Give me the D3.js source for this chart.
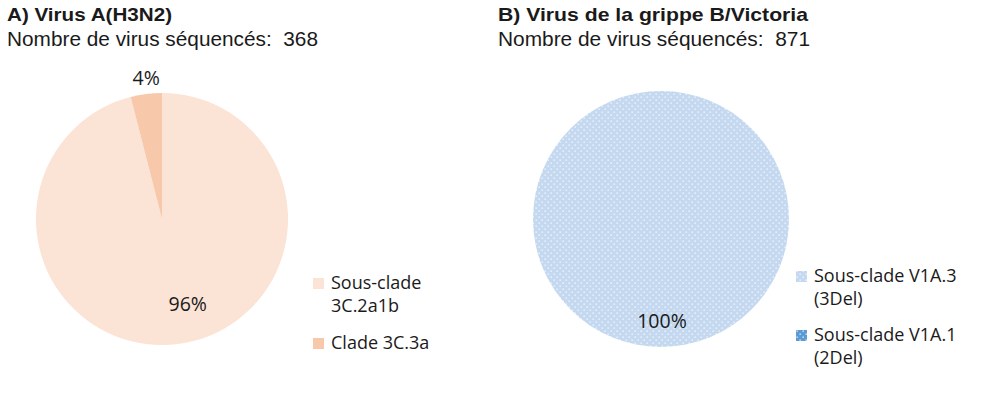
<!DOCTYPE html>
<html>
<head>
<meta charset="utf-8">
<script src="https://cdn.jsdelivr.net/npm/d3@7"></script>
<style>
  body { margin: 0; background: #fff; }
  text { fill: #1a1a1a; }
</style>
</head>
<body>
<svg width="1000" height="406"></svg>
<script>
// data
var cladesA = ["Sous-clade 3C.2a1b", "Clade 3C.3a"];
var valuesA = [96, 4];
var cladesB = ["Sous-clade V1A.3 (3Del)", "Sous-clade V1A.1 (2Del)"];
var valuesB = [100, 0];
var titles = ["A) Virus A(H3N2)", "B) Virus de la grippe B/Victoria"];
var counts = [368, 871];
// legend lines (wrapped like in the original)
var legendA = [["Sous-clade", "3C.2a1b"], ["Clade 3C.3a"]];
var legendB = [["Sous-clade V1A.3", "(3Del)"], ["Sous-clade V1A.1", "(2Del)"]];

var svg = d3.select("svg");

var defs = svg.append("defs");
function dots(id, base) {
  var p = defs.append("pattern")
      .attr("id", id)
      .attr("patternUnits", "userSpaceOnUse")
      .attr("width", 6).attr("height", 6);
  p.append("rect").attr("width", 6).attr("height", 6).attr("fill", base);
  p.append("rect").attr("x", 0.5).attr("y", 0.5).attr("width", 1.3).attr("height", 1.3).attr("fill", "#fff").attr("opacity", 0.85);
  p.append("rect").attr("x", 3.5).attr("y", 3.5).attr("width", 1.3).attr("height", 1.3).attr("fill", "#fff").attr("opacity", 0.85);
}
dots("dotLight", "#c4d8f0");
dots("dotDark", "#5b9bd5");

var colorA = d3.scaleOrdinal().domain(cladesA).range(["#fbe3d5", "#f7c9aa"]);
var colorB = d3.scaleOrdinal().domain(cladesB).range(["url(#dotLight)", "url(#dotDark)"]);

var pie = d3.pie().sort(null);

function drawPanel(opt) {
  var g = svg.append("g");
  g.append("text")
      .attr("x", opt.tx).attr("y", 21)
      .attr("textLength", opt.titleW).attr("lengthAdjust", "spacingAndGlyphs")
      .style("font-family", "Arial, 'Liberation Sans', sans-serif")
      .style("font-size", "19px").style("font-weight", "bold")
      .text(opt.title);
  g.append("text")
      .attr("x", opt.tx).attr("y", 46)
      .attr("textLength", opt.subW).attr("lengthAdjust", "spacingAndGlyphs")
      .style("font-family", "Arial, 'Liberation Sans', sans-serif")
      .style("font-size", "19.5px")
      .style("white-space", "pre")
      .text("Nombre de virus séquencés:  " + opt.count);

  var arc = d3.arc().innerRadius(0).outerRadius(opt.r);
  var pg = g.append("g").attr("transform", "translate(" + opt.cx + "," + opt.cy + ")");
  var arcs = pie(opt.values).filter(function(d) { return d.value > 0; });
  pg.selectAll("path")
      .data(arcs)
      .enter().append("path")
      .attr("d", arc)
      .attr("fill", function(d) { return opt.color(opt.cats[d.index]); });

  pg.selectAll("text.pct")
      .data(arcs)
      .enter().append("text")
      .attr("class", "pct")
      .attr("transform", function(d) {
        var lr = opt.labelR[d.index];
        var a = (d.startAngle + d.endAngle) / 2;
        return "translate(" + (Math.sin(a) * lr + opt.labelDx[d.index]) + "," + (-Math.cos(a) * lr) + ")";
      })
      .attr("text-anchor", "middle")
      .attr("dy", "0.35em")
      .style("font-family", "'Open Sans', 'Noto Sans', sans-serif")
      .style("font-size", "19.5px")
      .text(function(d) { return d.value + "%"; });

  var lg = g.append("g").attr("transform", "translate(" + opt.lx + "," + opt.ly + ")");
  opt.legend.forEach(function(lines, i) {
    var y0 = opt.lyOffsets[i];
    lg.append("rect")
        .attr("x", 0).attr("y", y0 - 11)
        .attr("width", 11).attr("height", 11)
        .attr("fill", opt.color(opt.cats[i]));
    lines.forEach(function(line, j) {
      lg.append("text")
          .attr("x", 18).attr("y", y0 + j * 23)
          .style("font-family", "'Open Sans', 'Noto Sans', sans-serif")
          .style("font-size", "18px")
          .text(line);
    });
  });
}

drawPanel({
  title: titles[0], count: counts[0], tx: 7, titleW: 165, subW: 311,
  cx: 162, cy: 219, r: 126,
  values: valuesA, cats: cladesA, color: colorA,
  labelR: [86, 142], labelDx: [15, 2],
  legend: legendA, lx: 313, ly: 289, lyOffsets: [0, 60]
});

drawPanel({
  title: titles[1], count: counts[1], tx: 498, titleW: 310, subW: 312,
  cx: 661, cy: 219, r: 128,
  values: valuesB, cats: cladesB, color: colorB,
  labelR: [102, 102], labelDx: [1, 0],
  legend: legendB, lx: 796, ly: 282, lyOffsets: [0, 59]
});
</script>
</body>
</html>
